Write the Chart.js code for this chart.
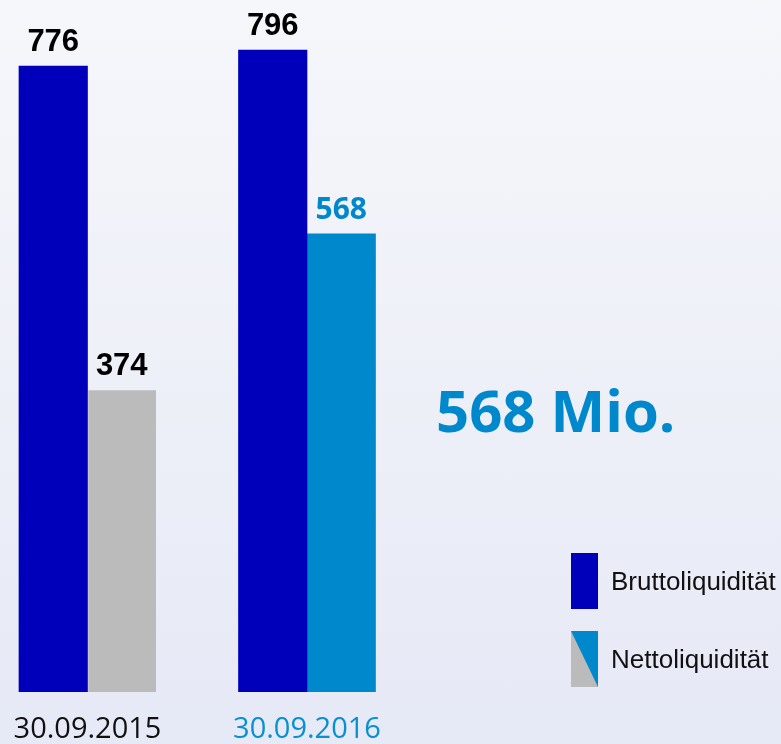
<!DOCTYPE html>
<html>
<head>
<meta charset="utf-8">
<script src="https://cdn.jsdelivr.net/npm/chart.js@4/dist/chart.umd.min.js"></script>
<style>
  html, body { margin:0; padding:0; }
  #wrap { position:relative; width:781px; height:744px; overflow:hidden;
    background: linear-gradient(to bottom, #f6f7fb 0%, #eef0f8 50%, #e6e9f6 100%); }
  #liq { position:absolute; left:0; top:0; }
  #headline { position:absolute; left:436px; top:381px; font:bold 58px "Open Sans", sans-serif; line-height:58px; color:#0088cc; white-space:nowrap; }
  #legend { position:absolute; left:571px; top:553px; font:26px "Liberation Sans", Arial, sans-serif; color:#111; }
  .lg-row { display:flex; align-items:center; height:56px; margin-bottom:22px; white-space:nowrap; }
  .lg-box { width:27px; height:56px; margin-right:13px; flex:none; }
</style>
</head>
<body>
<div id="wrap">
  <canvas id="liq" width="781" height="744"></canvas>
  <div id="headline"></div>
  <div id="legend"></div>
</div>
<script>
// data
const CATEGORIES   = ['30.09.2015', '30.09.2016'];
const CAT_COLORS   = ['#111111', '#0a8fd0'];
const SERIES_NAMES = ['Bruttoliquidität', 'Nettoliquidität'];
const GROSS        = [776, 796];
const NET          = [374, 568];
const GROSS_COLORS = ['#0000bb', '#0000bb'];
const NET_COLORS   = ['#bbbbbb', '#0088cc'];
const GROSS_LABEL_COLORS = ['#000000', '#000000'];
const NET_LABEL_COLORS   = ['#000000', '#0088cc'];
const HEADLINE = NET[1] + ' Mio.';

document.getElementById('headline').textContent = HEADLINE;

// legend (html)
const legendEl = document.getElementById('legend');
const swatches = [
  GROSS_COLORS[0],
  `linear-gradient(to top right, ${NET_COLORS[0]} 0%, ${NET_COLORS[0]} 49%, ${NET_COLORS[1]} 51%, ${NET_COLORS[1]} 100%)`
];
SERIES_NAMES.forEach((name, i) => {
  const row = document.createElement('div');
  row.className = 'lg-row';
  row.innerHTML = `<div class="lg-box" style="background:${swatches[i]}"></div><span>${name}</span>`;
  legendEl.appendChild(row);
});

const toPoints = arr => arr.map((v, i) => ({ x: i, y: v }));

// value labels above bars
const valueLabels = {
  id: 'valueLabels',
  afterDatasetsDraw(chart){
    const ctx = chart.ctx;
    ctx.save();
    ctx.textAlign = 'center';
    ctx.textBaseline = 'alphabetic';
    chart.data.datasets.forEach((ds, di) => {
      const meta = chart.getDatasetMeta(di);
      meta.data.forEach((bar, i) => {
        const blueText = ds.labelColors[i] !== '#000000';
        ctx.font = blueText ? 'bold 30px "Open Sans", sans-serif' : 'bold 31px "Liberation Sans", Arial, sans-serif';
        ctx.fillStyle = ds.labelColors[i];
        ctx.fillText(String(ds.data[i].y), bar.x, bar.y - 15);
      });
    });
    ctx.restore();
  }
};

new Chart(document.getElementById('liq'), {
  type: 'bar',
  data: {
    datasets: [
      { label: SERIES_NAMES[0], data: toPoints(GROSS), backgroundColor: GROSS_COLORS,
        labelColors: GROSS_LABEL_COLORS, barThickness: 68.5 },
      { label: SERIES_NAMES[1], data: toPoints(NET), backgroundColor: NET_COLORS,
        labelColors: NET_LABEL_COLORS, barThickness: 68.5,
        borderColor: '#ffffff', borderSkipped: false,
        borderWidth: c => c.dataIndex === 0 ? { left: 1, top: 0, right: 0, bottom: 0 } : 0 }
    ]
  },
  options: {
    responsive: false,
    animation: false,
    layout: { padding: 0 },
    plugins: { legend: { display: false }, tooltip: { enabled: false } },
    scales: {
      x: {
        type: 'linear',
        offset: false,
        bounds: 'data',
        min: -0.3986, max: 3.1595,
        grid: { display: false, drawTicks: false },
        border: { display: false },
        afterBuildTicks: s => { s.ticks = CATEGORIES.map((c, i) => ({ value: i })); },
        afterFit: s => { s.height = 52; s.paddingLeft = 0; s.paddingRight = 0; },
        ticks: {
          autoSkip: false, maxRotation: 0, padding: 23,
          callback: v => CATEGORIES[v],
          color: c => CAT_COLORS[c.index],
          font: { family: '"Open Sans", sans-serif', size: 29, lineHeight: 1 }
        }
      },
      y: { display: false, min: 0, max: 858 }
    }
  },
  plugins: [valueLabels]
});
</script>
</body>
</html>
